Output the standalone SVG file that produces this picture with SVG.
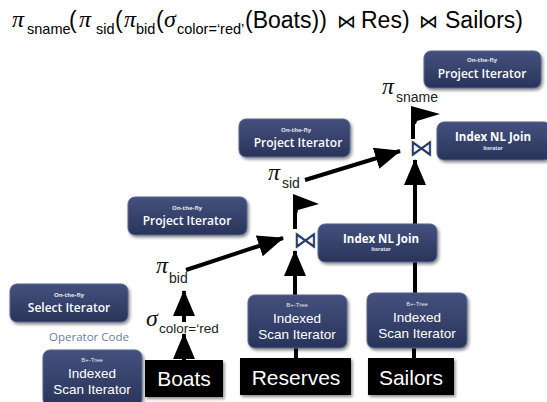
<svg xmlns="http://www.w3.org/2000/svg" width="547" height="402" viewBox="0 0 547 402">
<defs>
<linearGradient id="nb" x1="0" y1="0" x2="0" y2="1">
<stop offset="0" stop-color="#44517e"/>
<stop offset="1" stop-color="#29345a"/>
</linearGradient>
<filter id="sh" x="-10%" y="-10%" width="130%" height="140%">
<feDropShadow dx="1.5" dy="2" stdDeviation="1.5" flood-color="#000" flood-opacity="0.45"/>
</filter>
<marker id="ah" markerUnits="userSpaceOnUse" markerWidth="26" markerHeight="22" refX="25" refY="11" orient="auto">
<path d="M0,0 L26,11 L0,22 z" fill="#000"/>
</marker>
<style>
.nd{fill:url(#nb);stroke:#58648e;stroke-width:1;filter:url(#sh)}
.bk{fill:#000;filter:url(#sh)}
.t{font-family:"Open Sans","Liberation Sans",sans-serif;fill:#fff;text-anchor:middle}
.big{font-size:12px;font-weight:600}
.sm{font-size:6px;font-weight:700;fill:#e4e6f0}
.ar{font-family:"Liberation Sans",Arial,sans-serif;fill:#fff;text-anchor:middle;font-size:13.5px}
.arsm{font-family:"Liberation Sans",Arial,sans-serif;fill:#e4e6f0;text-anchor:middle;font-size:6px}
.bt{font-family:"Liberation Sans",Arial,sans-serif;fill:#fff;text-anchor:middle;font-size:21px}
.gr{font-family:"Liberation Serif","Times New Roman",serif;font-style:italic;fill:#111}
.sb{font-family:"Liberation Sans",Arial,sans-serif;fill:#222}
.bow{font-family:"DejaVu Sans",sans-serif;font-size:24px;fill:#2a3a6a;text-anchor:middle}
.ln{stroke:#000;stroke-width:4;fill:none}
.ti{font-family:"Liberation Sans",Arial,sans-serif;fill:#000;font-size:23px}
.tis{font-size:14.5px}
.tig{font-family:"Liberation Serif","Times New Roman",serif;font-style:italic;font-size:24px}
.tib{font-family:"DejaVu Sans",sans-serif;font-size:19px}
</style>
</defs>
<rect width="547" height="402" fill="#fff"/>

<g id="title">
<text class="ti" y="28"><tspan class="tig" x="12" y="27">π</tspan><tspan class="tis" x="27" y="34">sname</tspan><tspan x="69" y="28">(</tspan><tspan class="tig" x="79" y="27">π</tspan><tspan class="tis" x="96" y="34">sid</tspan><tspan x="115" y="28">(</tspan><tspan class="tig" x="124" y="27">π</tspan><tspan class="tis" x="136" y="34">bid</tspan><tspan x="156" y="28">(</tspan><tspan class="tig" x="164" y="27">σ</tspan><tspan class="tis" x="177" y="34">color=‘red’</tspan><tspan x="245" y="28">(Boats))</tspan><tspan class="tib" x="337" y="28">⋈</tspan><tspan x="361" y="28">Res)</tspan><tspan class="tib" x="419" y="28">⋈</tspan><tspan x="445" y="28">Sailors)</tspan></text>
</g>

<g id="connectors">
<line class="ln" x1="184" y1="360" x2="184" y2="334" marker-end="url(#ah)"/>
<line class="ln" x1="184" y1="322" x2="184" y2="291" marker-end="url(#ah)"/>
<line class="ln" x1="186" y1="270" x2="283" y2="238" marker-end="url(#ah)"/>
<line class="ln" x1="296" y1="358" x2="296" y2="346"/>
<line class="ln" x1="295" y1="296" x2="295" y2="251" marker-end="url(#ah)"/>
<line class="ln" x1="295" y1="229" x2="295" y2="198"/>
<polygon points="293,194 319,204 298,210 297,214 293,214" fill="#000"/>
<line class="ln" x1="305" y1="180" x2="400" y2="151" marker-end="url(#ah)"/>
<line class="ln" x1="414" y1="358" x2="414" y2="346"/>
<line class="ln" x1="415" y1="294" x2="415" y2="160" marker-end="url(#ah)"/>
<line class="ln" x1="413" y1="139" x2="413" y2="110"/>
<polygon points="411,106 440,114 417,121 416,124 411,124" fill="#000"/>
</g>

<g id="labels">
<text class="bow" x="305" y="248">⋈</text>
<text class="bow" x="421" y="156">⋈</text>
<text class="gr" x="156" y="273" font-size="24">π</text>
<text class="sb" x="169" y="283" font-size="14">bid</text>
<text class="gr" x="146" y="326" font-size="24">σ</text>
<text class="sb" x="159" y="333" font-size="13.5">color=‘red</text>
<text class="gr" x="268" y="180" font-size="24">π</text>
<text class="sb" x="282" y="188" font-size="14">sid</text>
<text class="gr" x="382" y="94" font-size="24">π</text>
<text class="sb" x="396" y="102" font-size="14">sname</text>
<text x="89" y="341" style="font-family:'Open Sans','Liberation Sans',sans-serif;font-size:11.5px;fill:#6d7c9e;text-anchor:middle">Operator Code</text>
</g>

<g id="proj-top">
<rect class="nd" x="424" y="51" width="117" height="37" rx="7"/>
<text class="t sm" x="482" y="62">On-the-fly</text>
<text class="t big" x="482" y="78">Project Iterator</text>
</g>
<g id="join-top">
<rect class="nd" x="437" y="122" width="114" height="38" rx="7"/>
<text class="t" x="493" y="141" style="font-size:11.5px;font-weight:700">Index NL Join</text>
<text class="t sm" x="493" y="150" style="font-size:5px">Iterator</text>
</g>
<g id="proj-mid">
<rect class="nd" x="239" y="119" width="111" height="38" rx="7"/>
<text class="t sm" x="296" y="132">On-the-fly</text>
<text class="t big" x="298" y="147">Project Iterator</text>
</g>
<g id="proj-left">
<rect class="nd" x="128" y="197" width="119" height="38" rx="7"/>
<text class="t sm" x="187" y="210">On-the-fly</text>
<text class="t big" x="187" y="225">Project Iterator</text>
</g>
<g id="join-mid">
<rect class="nd" x="318" y="224" width="119" height="38" rx="7"/>
<text class="t" x="381" y="243" style="font-size:11.5px;font-weight:700">Index NL Join</text>
<text class="t sm" x="381" y="251" style="font-size:5px">Iterator</text>
</g>
<g id="select">
<rect class="nd" x="10" y="284" width="118" height="38" rx="7"/>
<text class="t sm" x="69" y="297">On-the-fly</text>
<text class="t big" x="69" y="312">Select Iterator</text>
</g>
<g id="isi-left">
<rect class="nd" x="43" y="350" width="99" height="56" rx="7"/>
<text class="arsm" x="92" y="362">B+-Tree</text>
<text class="ar" x="92" y="378">Indexed</text>
<text class="ar" x="92" y="394">Scan Iterator</text>
</g>
<g id="isi-res">
<rect class="nd" x="248" y="295" width="99" height="53" rx="7"/>
<text class="arsm" x="297" y="307">B+-Tree</text>
<text class="ar" x="297" y="323">Indexed</text>
<text class="ar" x="297" y="339">Scan Iterator</text>
</g>
<g id="isi-sail">
<rect class="nd" x="367" y="293" width="100" height="55" rx="7"/>
<text class="arsm" x="417" y="306">B+-Tree</text>
<text class="ar" x="417" y="322">Indexed</text>
<text class="ar" x="417" y="338">Scan Iterator</text>
</g>
<g id="boats">
<rect class="bk" x="145" y="360" width="78" height="37"/>
<text class="bt" x="184" y="386">Boats</text>
</g>
<g id="reserves">
<rect class="bk" x="240" y="358" width="111" height="37"/>
<text class="bt" x="296" y="385">Reserves</text>
</g>
<g id="sailors">
<rect class="bk" x="368" y="358" width="86" height="37"/>
<text class="bt" x="411" y="385">Sailors</text>
</g>
</svg>
